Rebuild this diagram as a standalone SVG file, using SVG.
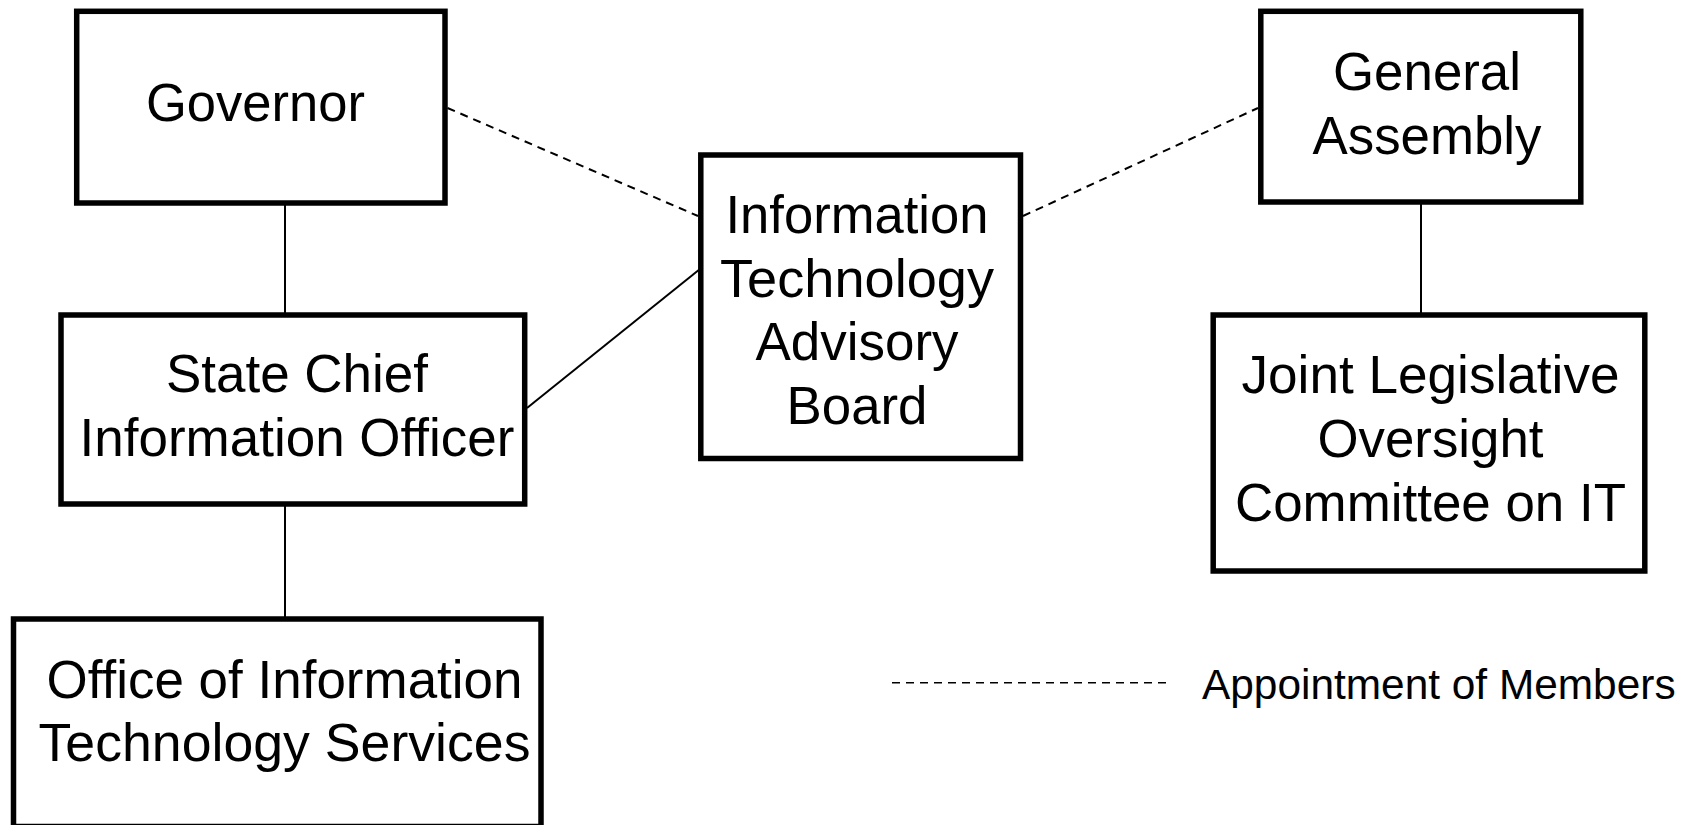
<svg xmlns="http://www.w3.org/2000/svg" width="1686" height="825" viewBox="0 0 1686 825">
<style>
.box{fill:#fff;stroke:#000;stroke-width:5.5}
.t{font-family:"Liberation Sans",Arial,Helvetica,sans-serif;font-size:53px;fill:#000;text-anchor:middle}
.solid{stroke:#000;stroke-width:2;fill:none}
.dash{stroke:#000;stroke-width:2;fill:none;stroke-dasharray:8 6}
.legdash{stroke:#000;stroke-width:1.5;fill:none;stroke-dasharray:8 6}
.leg{font-family:"Liberation Sans",Arial,Helvetica,sans-serif;font-size:42.4px;fill:#000}
</style>
<rect width="1686" height="825" fill="#fff"/>
<g id="connectors">
<line class="solid" x1="285" y1="203" x2="285" y2="315"/>
<line class="solid" x1="285" y1="504" x2="285" y2="619"/>
<line class="solid" x1="1421" y1="202" x2="1421" y2="315"/>
<line class="solid" x1="527" y1="408" x2="700" y2="269"/>
<line class="dash" x1="447.5" y1="108" x2="698" y2="216"/>
<line class="dash" x1="1023" y1="216" x2="1258" y2="108"/>
</g>
<g id="governor">
<rect class="box" x="76.7" y="11.3" width="368.3" height="191.7"/>
<text class="t" x="255.5" y="121" textLength="219" lengthAdjust="spacingAndGlyphs">Governor</text>
</g>
<g id="general-assembly">
<rect class="box" x="1260.8" y="11.3" width="320" height="190.7"/>
<text class="t" x="1427" y="90" textLength="188" lengthAdjust="spacingAndGlyphs">General</text>
<text class="t" x="1427" y="153.5" textLength="229" lengthAdjust="spacingAndGlyphs">Assembly</text>
</g>
<g id="state-cio">
<rect class="box" x="61" y="315" width="463.7" height="189"/>
<text class="t" x="297" y="392" textLength="262" lengthAdjust="spacingAndGlyphs">State Chief</text>
<text class="t" x="297" y="456" textLength="435" lengthAdjust="spacingAndGlyphs">Information Officer</text>
</g>
<g id="itab">
<rect class="box" x="700.8" y="155" width="319.7" height="303.5"/>
<text class="t" x="857" y="232.7" textLength="263" lengthAdjust="spacingAndGlyphs">Information</text>
<text class="t" x="857" y="296.5" textLength="274" lengthAdjust="spacingAndGlyphs">Technology</text>
<text class="t" x="857" y="360" textLength="203" lengthAdjust="spacingAndGlyphs">Advisory</text>
<text class="t" x="857" y="423.5" textLength="141" lengthAdjust="spacingAndGlyphs">Board</text>
</g>
<g id="jloc">
<rect class="box" x="1213.2" y="315" width="431.6" height="256"/>
<text class="t" x="1430.5" y="393" textLength="378" lengthAdjust="spacingAndGlyphs">Joint Legislative</text>
<text class="t" x="1430.5" y="457" textLength="226" lengthAdjust="spacingAndGlyphs">Oversight</text>
<text class="t" x="1430.5" y="521" textLength="391" lengthAdjust="spacingAndGlyphs">Committee on IT</text>
</g>
<g id="oits">
<rect class="box" x="13.5" y="619" width="527.5" height="207.5"/>
<text class="t" x="284.5" y="698" textLength="476" lengthAdjust="spacingAndGlyphs">Office of Information</text>
<text class="t" x="284.5" y="761" textLength="492" lengthAdjust="spacingAndGlyphs">Technology Services</text>
</g>
<g id="legend">
<line class="legdash" x1="892" y1="682.7" x2="1166" y2="682.7"/>
<text class="leg" x="1202" y="699">Appointment of Members</text>
</g>
</svg>
